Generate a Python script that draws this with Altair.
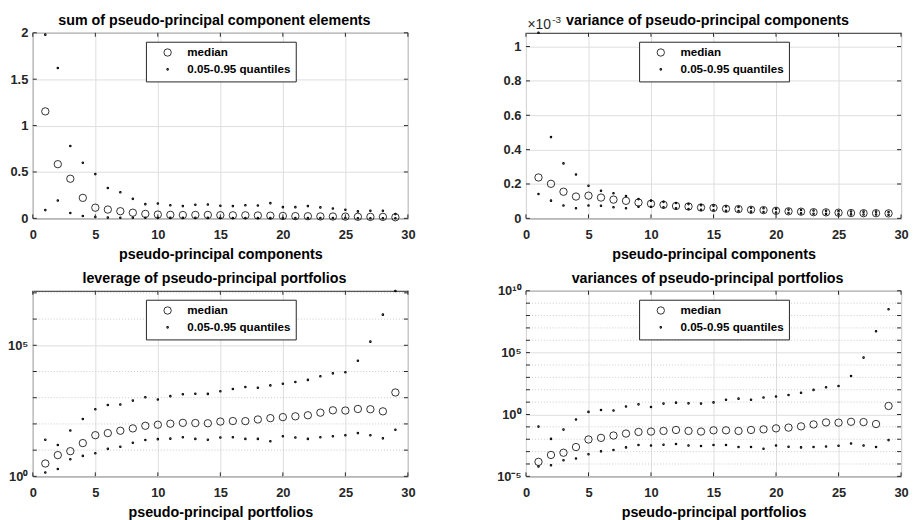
import altair as alt
import pandas as pd

FONT = "Liberation Sans"
W, H = 378, 187
SERIES = ["median", "0.05-0.95 quantiles"]
X_IDX = list(range(1, 30))
X_TICKS = [0, 5, 10, 15, 20, 25, 30]

# --- panel 1: sum of pseudo-principal component elements
sum_median = [1.153, 0.584, 0.427, 0.221, 0.115, 0.095, 0.077, 0.061, 0.048, 0.041,
              0.038, 0.036, 0.037, 0.037, 0.034, 0.033, 0.033, 0.031, 0.029, 0.026,
              0.024, 0.023, 0.021, 0.020, 0.019, 0.017, 0.016, 0.016, 0.012]
sum_q05 = [0.089, 0.192, 0.058, 0.025, 0.014, 0.008, 0.007, 0.006, 0.006, 0.005,
           0.005, 0.005, 0.005, 0.005, 0.004, 0.004, 0.004, 0.004, 0.004, 0.004,
           0.003, 0.003, 0.003, 0.003, 0.003, 0.002, 0.002, 0.002, 0.001]
sum_q95 = [1.98, 1.62, 0.78, 0.60, 0.477, 0.327, 0.281, 0.210, 0.153, 0.160,
           0.142, 0.132, 0.146, 0.150, 0.136, 0.132, 0.142, 0.139, 0.164, 0.121,
           0.121, 0.132, 0.118, 0.107, 0.093, 0.075, 0.082, 0.082, 0.046]

# --- panel 2: variance of pseudo-principal components (x 1e-3)
var_median = [0.238, 0.201, 0.155, 0.127, 0.132, 0.121, 0.109, 0.102, 0.092, 0.085,
              0.079, 0.072, 0.069, 0.063, 0.061, 0.056, 0.054, 0.050, 0.048, 0.044,
              0.041, 0.039, 0.036, 0.035, 0.033, 0.031, 0.030, 0.030, 0.029]
var_q05 = [0.142, 0.103, 0.075, 0.059, 0.075, 0.073, 0.065, 0.059, 0.068, 0.068,
           0.064, 0.059, 0.054, 0.050, 0.047, 0.044, 0.042, 0.039, 0.037, 0.034,
           0.031, 0.029, 0.027, 0.026, 0.024, 0.023, 0.022, 0.022, 0.021]
var_q95 = [1.08, 0.473, 0.320, 0.255, 0.190, 0.161, 0.146, 0.130, 0.112, 0.103,
           0.096, 0.089, 0.083, 0.077, 0.074, 0.069, 0.066, 0.062, 0.059, 0.055,
           0.051, 0.049, 0.046, 0.044, 0.042, 0.040, 0.039, 0.039, 0.037]

# --- panel 3: leverage of pseudo-principal portfolios
lev_median = [3.09, 6.46, 9.12, 18.6, 37.2, 44.7, 55.0, 67.6, 85.1, 93.3,
              102, 110, 108, 106, 123, 129, 128, 148, 166, 182,
              195, 214, 269, 331, 324, 372, 363, 302, 1585]
lev_q05 = [1.41, 1.91, 4.47, 6.03, 7.59, 11.2, 13.5, 19.1, 24.5, 26.3,
           27.5, 30.9, 26.9, 25.1, 30.2, 30.9, 26.9, 26.9, 21.9, 33.9,
           30.2, 26.9, 30.9, 33.9, 37.2, 44.7, 37.2, 28.2, 60.3]
lev_q95 = [25.1, 15.8, 56.2, 155, 363, 525, 550, 776, 1047, 851,
           1148, 1349, 1413, 1400, 1778, 2138, 2570, 2399, 2951, 3388,
           3981, 4786, 6607, 8511, 9333, 25704, 138038, 1479108, 11748976]

# --- panel 4: variances of pseudo-principal portfolios
pvar_median = [1.48e-4, 5.37e-4, 8.13e-4, 2.34e-3, 9.55e-3, 0.0129, 0.0200, 0.0288, 0.0389, 0.0417,
               0.0468, 0.0562, 0.0468, 0.0417, 0.0525, 0.0525, 0.0468, 0.0562, 0.0631, 0.0759,
               0.0871, 0.110, 0.158, 0.229, 0.219, 0.257, 0.245, 0.170, 4.90]
pvar_q05 = [6.31e-5, 7.94e-5, 2.00e-4, 2.75e-4, 6.03e-4, 1.05e-3, 1.35e-3, 2.19e-3, 3.39e-3, 3.16e-3,
            3.55e-3, 4.07e-3, 3.16e-3, 2.82e-3, 3.39e-3, 3.39e-3, 2.34e-3, 2.34e-3, 1.70e-3, 3.16e-3,
            2.45e-3, 2.19e-3, 2.34e-3, 2.63e-3, 2.95e-3, 4.57e-3, 3.16e-3, 2.34e-3, 8.51e-3]
pvar_q95 = [0.105, 0.0107, 0.0603, 0.398, 1.62, 2.34, 2.09, 4.37, 6.61, 4.07,
            7.59, 9.12, 7.94, 7.59, 9.55, 15.8, 19.1, 15.8, 24.0, 28.8,
            37.2, 57.5, 97.7, 162, 204, 1288, 39811, 5.37e6, 3.24e8]

LEV_TICKS = [1, 1e5]
LEV_DECADES = [1, 10, 100, 1e3, 1e4, 1e5, 1e6, 1e7]
LEV_MINOR = [10, 100, 1e3, 1e4, 1e6, 1e7]
PVAR_TICKS = [1e-5, 1, 1e5, 1e10]
PVAR_DECADES = [1e-5, 1e-4, 1e-3, 1e-2, 1e-1, 1, 10, 100, 1e3, 1e4, 1e5, 1e6, 1e7, 1e8, 1e9, 1e10]
PVAR_MINOR = [1e-4, 1e-3, 1e-2, 1e-1, 10, 100, 1e3, 1e4, 1e6, 1e7, 1e8, 1e9]

INK = "#262626"
GRID = "#dedede"


def long_df(med, lo, hi):
    rows = []
    for i, x in enumerate(X_IDX):
        rows.append({"x": x, "value": lo[i], "series": SERIES[1]})
        rows.append({"x": x, "value": hi[i], "series": SERIES[1]})
    for i, x in enumerate(X_IDX):
        rows.append({"x": x, "value": med[i], "series": SERIES[0]})
    return pd.DataFrame(rows)


def legend():
    return alt.Legend(
        title=None, orient="none", legendX=114, legendY=9, direction="vertical",
        strokeColor=INK, fillColor="white", padding=5, symbolOffset=11,
        labelOffset=14, rowPadding=4, labelFont=FONT, labelFontSize=11.7,
        labelFontWeight="bold", labelColor="black", symbolType="circle",
        symbolStrokeColor="black", symbolOpacity=1,
    )


def text_layer(txt, x, y, size, weight="normal", align="left", color=INK):
    return alt.Chart(pd.DataFrame({"t": [txt]})).mark_text(
        align=align, baseline="alphabetic", font=FONT, fontSize=size,
        fontWeight=weight, color=color,
    ).encode(x=alt.value(x), y=alt.value(y), text="t:N")


def panel(med, lo, hi, title, xtitle, yscale, yaxis, yticks, minor=None, extra=None):
    df = long_df(med, lo, hi)
    xscale = alt.Scale(domain=[0, 30], nice=False, zero=False)
    xaxis = alt.Axis(values=X_TICKS, format="d", title=xtitle, grid=True)
    layers = []
    if minor is not None:
        layers.append(
            alt.Chart(pd.DataFrame({"m": minor})).mark_rule(
                color="#bdbdbd", strokeWidth=0.8, strokeDash=[1, 2]
            ).encode(y=alt.Y("m:Q", scale=yscale, axis=yaxis), x=alt.value(0), x2=alt.value(W))
        )
    pts = alt.Chart(df).mark_point(
        opacity=1, color="black", filled=False, shape="circle"
    ).encode(
        x=alt.X("x:Q", scale=xscale, axis=xaxis),
        y=alt.Y("value:Q", scale=yscale, axis=yaxis),
        size=alt.Size("series:N", scale=alt.Scale(domain=SERIES, range=[55, 1]), legend=legend()),
        strokeWidth=alt.StrokeWidth("series:N", scale=alt.Scale(domain=SERIES, range=[0.8, 1.6]), legend=legend()),
    )
    layers.append(pts)
    xt = pd.DataFrame({"t": X_TICKS})
    yt = pd.DataFrame({"t": yticks})
    tick = dict(color=INK, strokeWidth=1)
    layers.append(alt.Chart(xt).mark_rule(**tick).encode(
        x=alt.X("t:Q", scale=xscale, axis=xaxis), y=alt.value(H), y2=alt.value(H - 4)))
    layers.append(alt.Chart(xt).mark_rule(**tick).encode(
        x=alt.X("t:Q", scale=xscale, axis=xaxis), y=alt.value(0), y2=alt.value(4)))
    layers.append(alt.Chart(yt).mark_rule(**tick).encode(
        y=alt.Y("t:Q", scale=yscale, axis=yaxis), x=alt.value(0), x2=alt.value(4)))
    layers.append(alt.Chart(yt).mark_rule(**tick).encode(
        y=alt.Y("t:Q", scale=yscale, axis=yaxis), x=alt.value(W - 4), x2=alt.value(W)))
    layers.append(text_layer(title, W / 2 - 6, -8.3, 14.4, "bold", "center", "black"))
    if extra:
        layers.extend(extra)
    return alt.layer(*layers).properties(width=W, height=H)


XT_COMP = "pseudo-principal components"
XT_PORT = "pseudo-principal portfolios"

p1 = panel(
    sum_median, sum_q05, sum_q95, "sum of pseudo-principal component elements", XT_COMP,
    alt.Scale(domain=[0, 2], nice=False),
    alt.Axis(values=[0, 0.5, 1, 1.5, 2], format="~g", title=None, grid=True),
    [0, 0.5, 1, 1.5, 2],
)

p2 = panel(
    var_median, var_q05, var_q95, "variance of pseudo-principal components", XT_COMP,
    alt.Scale(domain=[0, 1.08], nice=False),
    alt.Axis(values=[0, 0.2, 0.4, 0.6, 0.8, 1], format="~g", title=None, grid=True),
    [0, 0.2, 0.4, 0.6, 0.8, 1],
    extra=[text_layer("\u00d710", 1.5, -4, 14), text_layer("-3", 26.5, -10, 10)],
)

p3 = panel(
    lev_median, lev_q05, lev_q95, "leverage of pseudo-principal portfolios", XT_PORT,
    alt.Scale(type="log", domain=[1, 1.2e7], nice=False),
    alt.Axis(values=LEV_TICKS, title=None, grid=True,
             labelExpr="datum.value < 10 ? '10\u2070' : '10\u2075'"),
    LEV_DECADES, minor=LEV_MINOR,
)

p4 = panel(
    pvar_median, pvar_q05, pvar_q95, "variances of pseudo-principal portfolios", XT_PORT,
    alt.Scale(type="log", domain=[1e-5, 1e10], nice=False),
    alt.Axis(values=PVAR_TICKS, title=None, grid=True,
             labelExpr="datum.value < 0.001 ? '10\u207b\u2075' : datum.value < 10 ? '10\u2070' : datum.value < 1000000 ? '10\u2075' : '10\u00b9\u2070'"),
    PVAR_DECADES, minor=PVAR_MINOR,
)

chart = alt.concat(
    p1, p2, p3, p4, columns=2,
    spacing=alt.RowColnumber(row=73, column=119),
    bounds="flush",
    padding={"left": -2, "top": 2, "right": 0, "bottom": 0},
).resolve_scale(
    x="independent", y="independent", size="independent", strokeWidth="independent"
).resolve_axis(
    x="independent", y="independent"
).resolve_legend(
    size="independent", strokeWidth="independent"
).configure(
    background="white",
).configure_view(
    stroke=INK, strokeWidth=1,
).configure_axis(
    labelFont=FONT, labelFontSize=13, labelFontWeight="bold", labelColor=INK,
    titleFont=FONT, titleFontSize=14.4, titleFontWeight="bold", titleColor="black",
    gridColor=GRID, gridWidth=1, tickSize=0, domain=False, labelFlush=False,
).configure_axisX(
    labelPadding=10, titlePadding=6,
).configure_axisY(
    labelPadding=5,
)

chart.save("out.html", embed_options={"renderer": "svg", "actions": False})
